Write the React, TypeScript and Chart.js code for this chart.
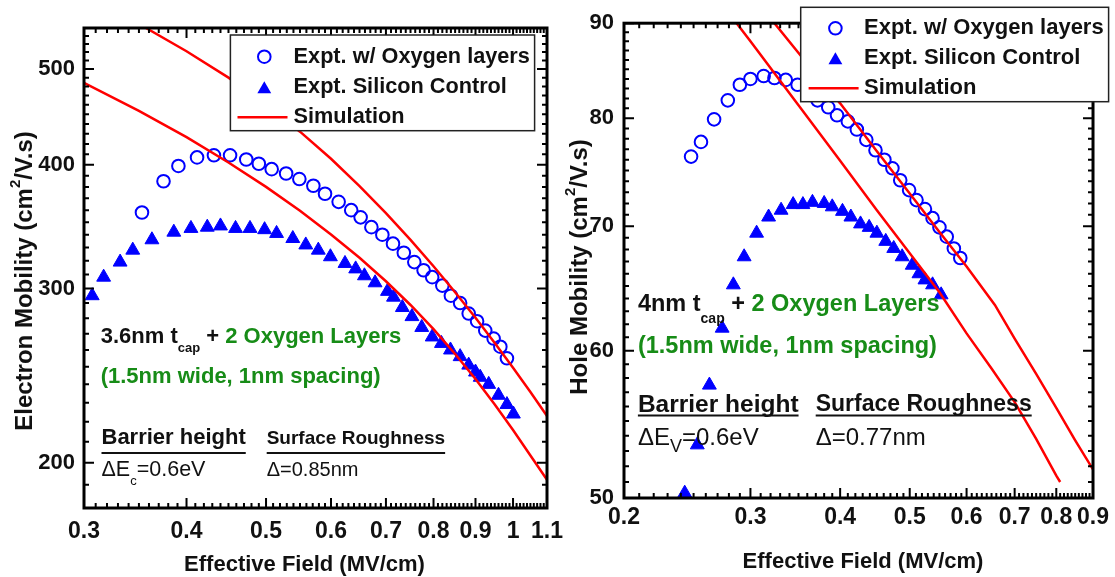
import React, { useEffect, useRef } from "react";
import { Chart, registerables } from "chart.js";

Chart.register(...registerables);

const FAMILY = '"Liberation Sans", Arial, Helvetica, sans-serif';
const BLUE = "#0000ff";
const RED = "#ff0000";
const GREEN = "#178c17";
const INK = "#111111";

const bold = (s: number) => `bold ${s}px ${FAMILY}`;
const reg = (s: number) => `${s}px ${FAMILY}`;

// ---------- Electron mobility panel ----------
const elecFieldTicks = [0.3, 0.4, 0.5, 0.6, 0.7, 0.8, 0.9, 1, 1.1];
const elecMobTicks = [200, 300, 400, 500];

const elecOxyField = [0.353, 0.375, 0.391, 0.412, 0.432, 0.452, 0.473, 0.49, 0.508, 0.529, 0.549, 0.571, 0.59, 0.613, 0.635, 0.652, 0.672, 0.693, 0.714, 0.736, 0.758, 0.778, 0.797, 0.82, 0.84, 0.862, 0.883, 0.904, 0.925, 0.947, 0.965, 0.983];
const elecOxyMob = [358, 385, 399, 407, 409, 409, 405, 401, 396, 392, 387, 381, 374, 367, 360, 354, 346, 340, 333, 326, 319, 313, 308, 302, 295, 290, 283, 278, 272, 267, 262, 255];

const elecCtrlField = [0.307, 0.317, 0.332, 0.344, 0.363, 0.386, 0.405, 0.424, 0.44, 0.459, 0.478, 0.498, 0.515, 0.539, 0.559, 0.579, 0.599, 0.624, 0.643, 0.659, 0.679, 0.703, 0.715, 0.733, 0.753, 0.774, 0.797, 0.818, 0.839, 0.862, 0.883, 0.9, 0.912, 0.934, 0.96, 0.983, 1.001];
const elecCtrlMob = [295, 308, 319, 328, 336, 342, 345, 346, 347, 345, 345, 344, 341, 337, 332, 328, 323, 318, 314, 309, 304, 298, 294, 287, 281, 274, 268, 264, 260, 256, 251, 247, 244, 240, 234, 229, 224];

const elecSimOxyField = [0.357, 0.4, 0.45, 0.5, 0.55, 0.6, 0.65, 0.7, 0.75, 0.8, 0.85, 0.9, 0.95, 1.0, 1.05, 1.1];
const elecSimOxyMob = [550, 521, 490, 460.4, 432.1, 405.7, 380.7, 357.5, 335.9, 315.9, 297.4, 280.2, 264.2, 249.5, 235.8, 223];

const elecSimCtrlField = [0.3, 0.35, 0.4, 0.45, 0.5, 0.55, 0.6, 0.65, 0.7, 0.75, 0.8, 0.85, 0.9, 0.95, 1.0, 1.05, 1.1];
const elecSimCtrlMob = [484, 453.6, 426.6, 402.2, 380, 359.4, 340.1, 322.2, 305.1, 288.7, 272.9, 257.6, 243, 229, 215.8, 203.4, 192.2];

// ---------- Hole mobility panel ----------
const holeFieldTicks = [0.2, 0.3, 0.4, 0.5, 0.6, 0.7, 0.8, 0.9];
const holeMobTicks = [50, 60, 70, 80, 90];

const holeOxyField = [0.248, 0.256, 0.267, 0.279, 0.29, 0.3, 0.313, 0.324, 0.336, 0.349, 0.361, 0.372, 0.385, 0.396, 0.41, 0.422, 0.435, 0.448, 0.461, 0.473, 0.485, 0.499, 0.511, 0.525, 0.538, 0.55, 0.563, 0.576, 0.588];
const holeOxyMob = [76.3, 77.7, 79.9, 81.8, 83.4, 84.0, 84.3, 84.1, 83.9, 83.4, 82.7, 81.8, 81.1, 80.3, 79.7, 78.9, 77.9, 76.9, 76.0, 75.2, 74.1, 73.2, 72.3, 71.5, 70.7, 69.9, 69.1, 68.1, 67.3];

const holeCtrlField = [0.243, 0.253, 0.263, 0.274, 0.284, 0.294, 0.306, 0.318, 0.331, 0.344, 0.355, 0.366, 0.38, 0.39, 0.403, 0.414, 0.427, 0.439, 0.45, 0.463, 0.475, 0.488, 0.504, 0.515, 0.525, 0.538, 0.553];
const holeCtrlMob = [50.3, 53.4, 57.5, 61.7, 65.1, 67.4, 69.4, 70.8, 71.4, 71.9, 71.9, 72.1, 72.0, 71.7, 71.3, 70.8, 70.2, 69.9, 69.4, 68.7, 68.1, 67.4, 66.7, 66.0, 65.5, 65.1, 64.3];

const holeSimOxyField = [0.324, 0.36, 0.4, 0.45, 0.5, 0.55, 0.6, 0.657, 0.7, 0.75, 0.8, 0.85, 0.9];
const holeSimOxyMob = [90, 85.6, 81.5, 76.8, 72.9, 69.5, 66.6, 63.5, 60.9, 58.3, 55.9, 53.7, 51.8];

const holeSimCtrlField = [0.287, 0.3, 0.35, 0.4, 0.45, 0.5, 0.55, 0.6, 0.65, 0.7, 0.75, 0.8, 0.81];
const holeSimCtrlMob = [90, 88.0, 81.3, 75.9, 71.4, 67.7, 64.5, 61.3, 58.7, 56.3, 53.8, 51.4, 51.0];

const legendLabels = ["Expt. w/ Oxygen layers", "Expt. Silicon Control", "Simulation"];

type Run = { t: string; font: string; color?: string; dy?: number };
type Note = { x: number; y: number; runs: Run[]; underline?: number; center?: boolean; rotate?: boolean };

type Panel = {
  ox: number;
  width: number;
  height: number;
  area: { left: number; right: number; top: number; bottom: number };
  x: { min: number; max: number; ticks: number[]; minor: number; pad: number };
  y: { min: number; max: number; ticks: number[]; minor: number; pad: number };
  series: { oxyX: number[]; oxyY: number[]; ctrlX: number[]; ctrlY: number[]; simAX: number[]; simAY: number[]; simBX: number[]; simBY: number[] };
  legend: { box: [number, number, number, number]; rows: number[]; markerX: number; lineX: [number, number]; textX: number; font: string };
  notes: Note[];
};

const elecPanel: Panel = {
  ox: 0,
  width: 600,
  height: 577,
  area: { left: 84, right: 547, top: 28, bottom: 508 },
  x: { min: 0.3, max: 1.1, ticks: elecFieldTicks, minor: 0.01, pad: 10 },
  y: { min: 180, max: 550, ticks: elecMobTicks, minor: 10, pad: 9 },
  series: {
    oxyX: elecOxyField, oxyY: elecOxyMob, ctrlX: elecCtrlField, ctrlY: elecCtrlMob,
    simAX: elecSimOxyField, simAY: elecSimOxyMob, simBX: elecSimCtrlField, simBY: elecSimCtrlMob,
  },
  legend: { box: [230.4, 35, 304.2, 95.7], rows: [56.7, 87.3, 117.3], markerX: 264.3, lineX: [237.5, 287.5], textX: 293.6, font: bold(21.7) },
  notes: [
    { x: 100.7, y: 336.7, runs: [{ t: "3.6nm t", font: bold(22) }, { t: "cap", font: bold(13), dy: 12 }, { t: " + ", font: bold(22) }, { t: "2 Oxygen Layers", font: bold(22), color: GREEN }] },
    { x: 100.7, y: 376.7, runs: [{ t: "(1.5nm wide, 1nm spacing)", font: bold(22), color: GREEN }] },
    { x: 101.5, y: 438.3, runs: [{ t: "Barrier height", font: bold(22) }], underline: 453 },
    { x: 266.7, y: 439, runs: [{ t: "Surface Roughness", font: bold(19) }], underline: 453 },
    { x: 101.5, y: 470, runs: [{ t: "\u0394E", font: reg(21.5) }, { t: "c", font: reg(13), dy: 11 }, { t: "=0.6eV", font: reg(21.5) }] },
    { x: 266.7, y: 470, runs: [{ t: "\u0394=0.85nm", font: reg(20) }] },
    { x: 304.5, y: 565, center: true, runs: [{ t: "Effective Field (MV/cm)", font: bold(22) }] },
    { x: 25, y: 281, center: true, rotate: true, runs: [{ t: "Electron Mobility (cm", font: bold(24) }, { t: "2", font: bold(15), dy: -9 }, { t: "/V.s)", font: bold(24) }] },
  ],
};

const holePanel: Panel = {
  ox: 555,
  width: 560,
  height: 577,
  area: { left: 69, right: 540, top: 23, bottom: 498 },
  x: { min: 0.2, max: 0.9, ticks: holeFieldTicks, minor: 0.01, pad: 6 },
  y: { min: 50, max: 90, ticks: holeMobTicks, minor: 1, pad: 10 },
  series: {
    oxyX: holeOxyField, oxyY: holeOxyMob, ctrlX: holeCtrlField, ctrlY: holeCtrlMob,
    simAX: holeSimOxyField, simAY: holeSimOxyMob, simBX: holeSimCtrlField, simBY: holeSimCtrlMob,
  },
  legend: { box: [800.7, 7.3, 307.9, 94.4], rows: [28.3, 58.3, 88.3], markerX: 835.4, lineX: [808.6, 858.6], textX: 864, font: bold(22) },
  notes: [
    { x: 637.9, y: 305, runs: [{ t: "4nm t", font: bold(23.5) }, { t: "cap", font: bold(14), dy: 14 }, { t: " + ", font: bold(23.5) }, { t: "2 Oxygen Layers", font: bold(23.5), color: GREEN }] },
    { x: 637.9, y: 346.7, runs: [{ t: "(1.5nm wide, 1nm spacing)", font: bold(23.5), color: GREEN }] },
    { x: 637.9, y: 405, runs: [{ t: "Barrier height", font: bold(24.5) }], underline: 415.5 },
    { x: 815.7, y: 405, runs: [{ t: "Surface Roughness", font: bold(23) }], underline: 415.5 },
    { x: 637.9, y: 438.3, runs: [{ t: "\u0394E", font: reg(24) }, { t: "V", font: reg(18), dy: 9 }, { t: "=0.6eV", font: reg(24) }] },
    { x: 815.7, y: 438.3, runs: [{ t: "\u0394=0.77nm", font: reg(24) }] },
    { x: 863, y: 561.7, center: true, runs: [{ t: "Effective Field (MV/cm)", font: bold(22) }] },
    { x: 580, y: 267, center: true, rotate: true, runs: [{ t: "Hole Mobility (cm", font: bold(24) }, { t: "2", font: bold(15), dy: -9 }, { t: "/V.s)", font: bold(24) }] },
  ],
};

const pts = (xs: number[], ys: number[]) => xs.map((x, i) => ({ x, y: ys[i] }));

function minorValues(min: number, max: number, step: number) {
  const out: number[] = [];
  for (let k = Math.ceil(min / step - 1e-9); k * step <= max + 1e-9; k++) out.push(+(k * step).toFixed(4));
  return out;
}

function runsWidth(ctx: CanvasRenderingContext2D, runs: Run[]) {
  let w = 0;
  for (const r of runs) {
    ctx.font = r.font;
    w += ctx.measureText(r.t).width;
  }
  return w;
}

function drawRuns(ctx: CanvasRenderingContext2D, x: number, y: number, runs: Run[]) {
  let cx = x;
  for (const r of runs) {
    ctx.font = r.font;
    ctx.fillStyle = r.color || INK;
    ctx.fillText(r.t, cx, y + (r.dy || 0));
    cx += ctx.measureText(r.t).width;
  }
  return cx;
}

function triangle(ctx: CanvasRenderingContext2D, x: number, y: number, r: number) {
  const s = Math.sin(Math.PI / 3) * r;
  ctx.beginPath();
  ctx.moveTo(x, y - r);
  ctx.lineTo(x + s, y + r / 2);
  ctx.lineTo(x - s, y + r / 2);
  ctx.closePath();
  ctx.fill();
}

function decorPlugin(p: Panel) {
  return {
    id: "panelDecor",
    afterDraw(chart: Chart) {
      const ctx = chart.ctx;
      const { left, right, top, bottom } = chart.chartArea;
      const xs = chart.scales.x;
      const ys = chart.scales.y;
      ctx.save();

      // inward ticks on all four sides
      ctx.strokeStyle = "#000";
      ctx.lineWidth = 2;
      ctx.beginPath();
      const xTick = (v: number, len: number) => {
        const px = xs.getPixelForValue(v);
        ctx.moveTo(px, bottom);
        ctx.lineTo(px, bottom - len);
        ctx.moveTo(px, top);
        ctx.lineTo(px, top + len);
      };
      const yTick = (v: number, len: number) => {
        const py = ys.getPixelForValue(v);
        ctx.moveTo(left, py);
        ctx.lineTo(left + len, py);
        ctx.moveTo(right, py);
        ctx.lineTo(right - len, py);
      };
      minorValues(p.x.min, p.x.max, p.x.minor).forEach((v) => xTick(v, 5));
      minorValues(p.y.min, p.y.max, p.y.minor).forEach((v) => yTick(v, 5));
      p.x.ticks.forEach((v) => xTick(v, 10));
      p.y.ticks.forEach((v) => yTick(v, 10));
      ctx.stroke();

      // frame
      ctx.lineWidth = 3;
      ctx.strokeRect(left, top, right - left, bottom - top);

      // annotations and axis titles
      ctx.textBaseline = "middle";
      ctx.textAlign = "left";
      for (const n of p.notes) {
        const x = n.x - p.ox;
        if (n.rotate) {
          ctx.save();
          ctx.translate(x, n.y);
          ctx.rotate(-Math.PI / 2);
          const w = runsWidth(ctx, n.runs);
          drawRuns(ctx, -w / 2, 0, n.runs);
          ctx.restore();
          continue;
        }
        const w = runsWidth(ctx, n.runs);
        const sx = n.center ? x - w / 2 : x;
        drawRuns(ctx, sx, n.y, n.runs);
        if (n.underline !== undefined) {
          ctx.strokeStyle = INK;
          ctx.lineWidth = 2;
          ctx.beginPath();
          ctx.moveTo(sx, n.underline);
          ctx.lineTo(sx + w, n.underline);
          ctx.stroke();
        }
      }

      // legend
      const L = p.legend;
      const bx = L.box[0] - p.ox;
      ctx.fillStyle = "#ffffff";
      ctx.fillRect(bx, L.box[1], L.box[2], L.box[3]);
      ctx.strokeStyle = "#222";
      ctx.lineWidth = 1.5;
      ctx.strokeRect(bx, L.box[1], L.box[2], L.box[3]);
      const mx = L.markerX - p.ox;
      const ds = chart.data.datasets;
      const oxy = ds[2] as any;
      const ctrl = ds[3] as any;
      const sim = ds[0] as any;
      ctx.strokeStyle = oxy.pointBorderColor;
      ctx.lineWidth = oxy.pointBorderWidth;
      ctx.beginPath();
      ctx.arc(mx, L.rows[0], oxy.pointRadius, 0, Math.PI * 2);
      ctx.stroke();
      ctx.fillStyle = ctrl.pointBackgroundColor;
      triangle(ctx, mx, L.rows[1] + 2, ctrl.pointRadius);
      ctx.strokeStyle = sim.borderColor;
      ctx.lineWidth = sim.borderWidth;
      ctx.beginPath();
      ctx.moveTo(L.lineX[0] - p.ox, L.rows[2]);
      ctx.lineTo(L.lineX[1] - p.ox, L.rows[2]);
      ctx.stroke();
      ctx.font = L.font;
      ctx.fillStyle = INK;
      legendLabels.forEach((t, i) => ctx.fillText(t, L.textX - p.ox, L.rows[i]));

      ctx.restore();
    },
  };
}

function buildChart(canvas: HTMLCanvasElement, p: Panel) {
  const s = p.series;
  const simStyle = {
    showLine: true,
    pointRadius: 0,
    borderColor: RED,
    borderWidth: 2.5,
    tension: 0,
    fill: false,
  };
  return new Chart(canvas, {
    type: "scatter",
    data: {
      datasets: [
        { label: legendLabels[2], data: pts(s.simAX, s.simAY), ...simStyle },
        { label: legendLabels[2], data: pts(s.simBX, s.simBY), ...simStyle },
        {
          label: legendLabels[0],
          data: pts(s.oxyX, s.oxyY),
          pointStyle: "circle",
          pointRadius: 6.3,
          pointBorderWidth: 2,
          pointBorderColor: BLUE,
          pointBackgroundColor: "rgba(0,0,0,0)",
        },
        {
          label: legendLabels[1],
          data: pts(s.ctrlX, s.ctrlY),
          pointStyle: "triangle",
          pointRadius: 8,
          pointBorderWidth: 1,
          pointBorderColor: BLUE,
          pointBackgroundColor: BLUE,
        },
      ],
    },
    options: {
      responsive: false,
      animation: false,
      devicePixelRatio: 1,
      events: [],
      layout: { padding: { left: 0, top: p.area.top, right: p.width - p.area.right, bottom: 0 } },
      plugins: { legend: { display: false }, tooltip: { enabled: false } },
      scales: {
        x: {
          type: "logarithmic",
          position: "bottom",
          min: p.x.min,
          max: p.x.max,
          afterBuildTicks: (sc: any) => {
            sc.ticks = p.x.ticks.map((v) => ({ value: v }));
          },
          afterFit: (sc: any) => {
            sc.height = p.height - p.area.bottom;
          },
          grid: { display: false, drawTicks: false },
          border: { display: false },
          ticks: {
            autoSkip: false,
            maxRotation: 0,
            minRotation: 0,
            padding: p.x.pad,
            color: INK,
            font: { family: FAMILY, size: 23, weight: "bold" },
            callback: (v: any) => String(+Number(v).toFixed(3)),
          },
        },
        y: {
          type: "logarithmic",
          position: "left",
          min: p.y.min,
          max: p.y.max,
          afterBuildTicks: (sc: any) => {
            sc.ticks = p.y.ticks.map((v) => ({ value: v }));
          },
          afterFit: (sc: any) => {
            sc.width = p.area.left;
          },
          grid: { display: false, drawTicks: false },
          border: { display: false },
          ticks: {
            autoSkip: false,
            padding: p.y.pad,
            color: INK,
            font: { family: FAMILY, size: 22, weight: "bold" },
            callback: (v: any) => String(+Number(v).toFixed(3)),
          },
        },
      },
    },
    plugins: [decorPlugin(p)],
  } as any);
}

function PanelCanvas({ panel }: { panel: Panel }) {
  const ref = useRef<HTMLCanvasElement | null>(null);
  useEffect(() => {
    if (!ref.current) return;
    const chart = buildChart(ref.current, panel);
    return () => chart.destroy();
  }, [panel]);
  return (
    <canvas
      ref={ref}
      width={panel.width}
      height={panel.height}
      style={{ position: "absolute", left: panel.ox, top: 0, width: panel.width, height: panel.height }}
    />
  );
}

export default function App() {
  return (
    <div style={{ position: "fixed", left: 0, top: 0, width: 1115, height: 577, background: "#ffffff", overflow: "hidden" }}>
      <PanelCanvas panel={elecPanel} />
      <PanelCanvas panel={holePanel} />
    </div>
  );
}
